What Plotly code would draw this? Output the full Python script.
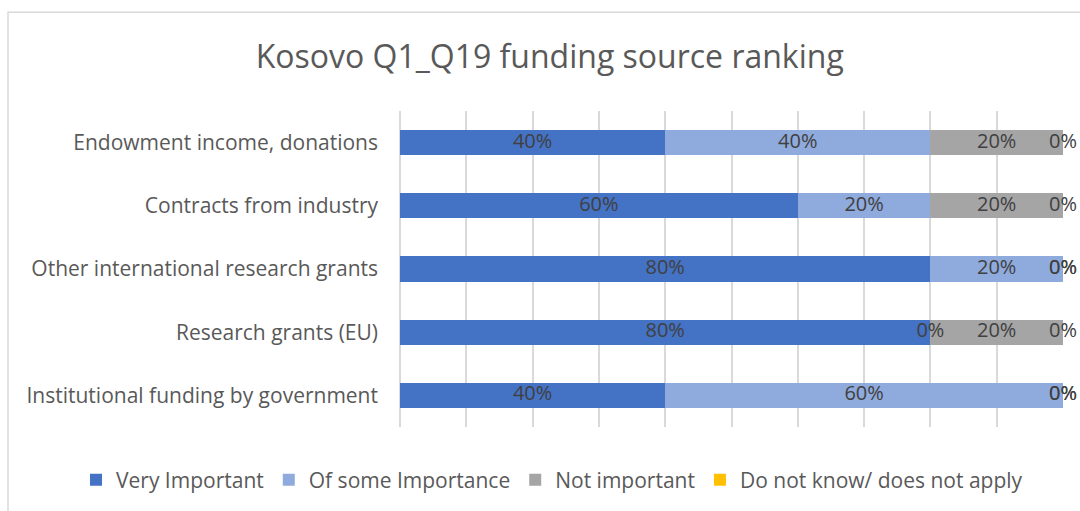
import plotly.graph_objects as go

categories = ["Endowment income, donations", "Contracts from industry",
              "Other international research grants", "Research grants (EU)",
              "Institutional funding by government"]
series_names = ["Very Important", "Of some Importance", "Not important",
                "Do not know/ does not apply"]
very_important = [40, 60, 80, 80, 40]
of_some_importance = [40, 20, 20, 0, 60]
not_important = [20, 20, 0, 20, 0]
do_not_know = [0, 0, 0, 0, 0]
colors = ["#4472C4", "#8FAADC", "#A5A5A5", "#FFC000"]

FONT = "Open Sans"
series_values = [very_important, of_some_importance, not_important, do_not_know]

fig = go.Figure()
for name, vals, col in zip(series_names, series_values, colors):
    fig.add_trace(go.Bar(y=categories, x=vals, name=name, orientation="h",
                         marker=dict(color=col, line=dict(width=0)),
                         hoverinfo="x+y+name"))

# data labels centred on each segment (zero segments sit on the boundary)
lx, ly, lt = [], [], []
for i, cat in enumerate(categories):
    cum = 0
    for vals in series_values:
        v = vals[i]
        lx.append(cum + v / 2)
        ly.append(cat)
        lt.append(f"{v}%")
        cum += v
fig.add_trace(go.Scatter(x=lx, y=ly, text=lt, mode="text", showlegend=False,
                         hoverinfo="skip", cliponaxis=False,
                         textfont=dict(family=FONT, size=20, color="#404040")))

fig.update_layout(
    barmode="stack",
    bargap=0.6,
    width=1080, height=511,
    margin=dict(l=400, r=17, t=111, b=83),
    paper_bgcolor="white", plot_bgcolor="white",
    font=dict(family=FONT, color="#595959"),
    title=dict(text="Kosovo Q1_Q19 funding source ranking", x=0.509, xanchor="center",
               y=1 - 57 / 511, yanchor="middle", yref="container",
               font=dict(family=FONT, size=32, color="#595959")),
    xaxis=dict(range=[0, 100], dtick=10, showticklabels=False, showgrid=True,
               gridcolor="#D9D9D9", gridwidth=1.5, zeroline=True,
               zerolinecolor="#D9D9D9", zerolinewidth=1.5, showline=False,
               fixedrange=True),
    yaxis=dict(autorange="reversed", showgrid=False, ticks="", ticklabelstandoff=21,
               tickfont=dict(family=FONT, size=21, color="#595959"), showline=False),
    legend=dict(orientation="h", x=(76 - 400) / 663, xanchor="left", y=-0.164,
                yanchor="middle",
                font=dict(family=FONT, size=21, color="#595959"),
                traceorder="normal", itemwidth=30),
    shapes=[dict(type="rect", xref="paper", yref="paper",
                 x0=(8 - 400) / 663, x1=(1090 - 400) / 663,
                 y0=(428 - 520) / 317, y1=(428 - 12) / 317,
                 line=dict(color="#D9D9D9", width=1.5), layer="below")],
)
fig.write_html("out.html", post_script="document.body.style.margin='0';",
               config={"displayModeBar": False})
